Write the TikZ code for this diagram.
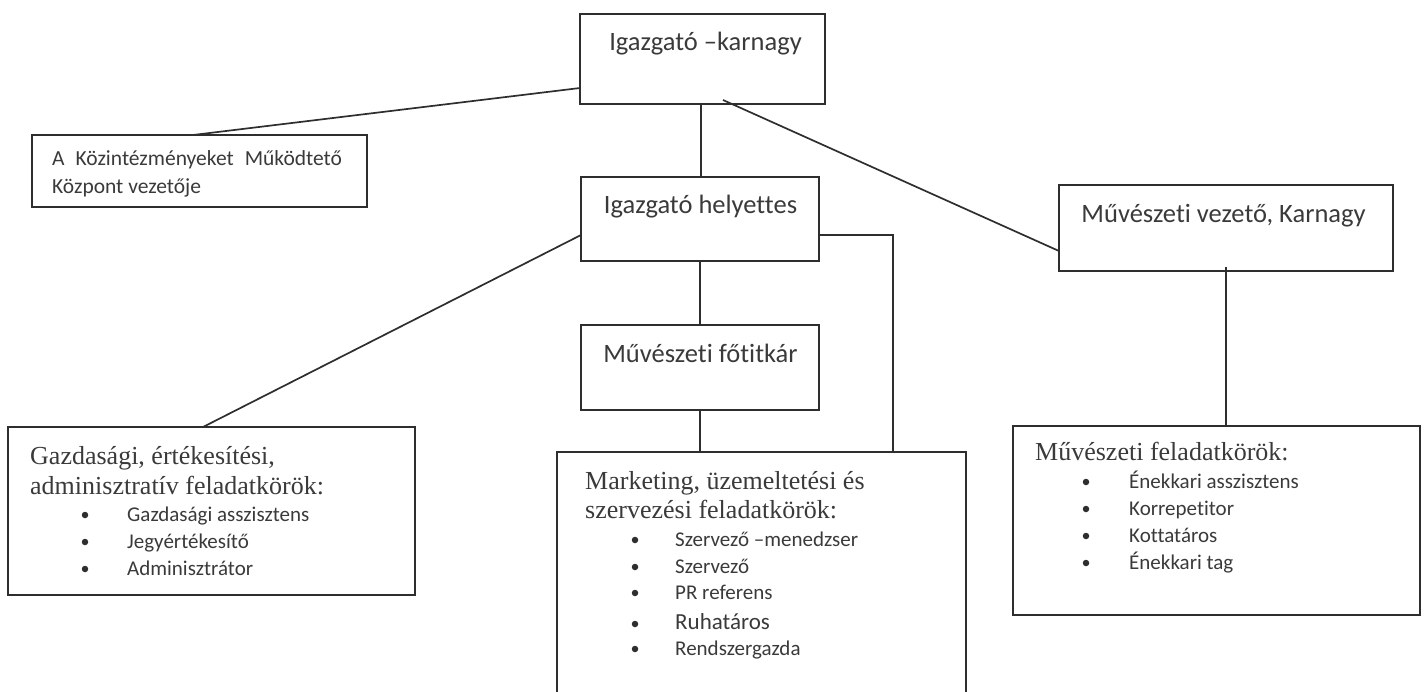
\documentclass[tikz,border=0pt]{standalone}
\usepackage{fontspec}
\setmainfont{Carlito}[Ligatures=NoCommon]
\newfontfamily\serifhead{Liberation Serif}
\usetikzlibrary{calc}
\definecolor{ink}{HTML}{2E2E2E}
\definecolor{txt}{HTML}{3A3A3A}
\tikzset{
  box/.style={draw=ink, line width=1.8pt, rectangle, inner sep=0pt, outer sep=0pt},
  conn/.style={draw=ink, line width=1.7pt},
  bigtxt/.style={text=txt, inner sep=0pt, anchor=base, font=\fontsize{26.5}{30}\selectfont},
  kmktxt/.style={text=txt, inner sep=0pt, anchor=base west, font=\fontsize{21.5}{24}\selectfont},
  headtxt/.style={text=txt, inner sep=0pt, anchor=base west, font=\serifhead\fontsize{26}{29}\selectfont},
  itemtxt/.style={text=txt, inner sep=0pt, anchor=base west, font=\fontsize{21}{24}\selectfont},
  bul/.style={circle, fill=ink, inner sep=0pt, minimum size=6.5pt},
}
\begin{document}
\begin{tikzpicture}[x=1pt,y=-1pt]
\useasboundingbox (0,0) rectangle (1424,691);
\clip (0,0) rectangle (1424,691);
% boxes
\node[box, minimum width=245pt, minimum height=90pt] (b1) at (702.5,59) {};
\node[box, minimum width=335pt, minimum height=72pt] (kmk) at (199.5,171) {};
\node[box, minimum width=238pt, minimum height=84pt] (hely) at (700,219) {};
\node[box, minimum width=238pt, minimum height=85pt] (fot) at (700,367.5) {};
\node[box, minimum width=334pt, minimum height=86pt] (mv) at (1226,228) {};
\node[box, minimum width=407pt, minimum height=168pt] (gazd) at (211.5,511) {};
\node[box, minimum width=409pt, minimum height=280pt] (mark) at (761.5,592) {};
\node[box, minimum width=407pt, minimum height=189pt] (mf) at (1216.5,520.5) {};
% box texts
\node[bigtxt] (t1) at (705.5,50) {Igazgató –karnagy};
\node[kmktxt] (tk1) at (52,165) {A\hspace{11pt}Közintézményeket\hspace{11pt}Működtető};
\node[kmktxt] (tk2) at (52,193) {Központ vezetője};
\node[bigtxt] (th) at (700.5,213) {Igazgató helyettes};
\node[bigtxt] (tf) at (700.5,362) {Művészeti főtitkár};
\node[bigtxt] (tm) at (1223.5,222) {Művészeti vezető, Karnagy};
% gazdasagi
\node[headtxt] (g1) at (30,464) {Gazdasági, értékesítési,};
\node[headtxt] (g2) at (30,494) {adminisztratív feladatkörök:};
\foreach \n/\y/\t in {a/521/{Gazdasági asszisztens}, b/548/{Jegyértékesítő}, c/575/{Adminisztrátor}} {
  \node[bul] (gb\n) at (85,\y-6) {};
  \node[itemtxt] (gi\n) at (127,\y) {\t};
}
% marketing
\node[headtxt] (m1) at (585,489) {Marketing, üzemeltetési és};
\node[headtxt] (m2) at (585,518) {szervezési feladatkörök:};
\foreach \n/\y/\t in {a/546/{Szervező –menedzser}, b/573/{Szervező}, c/599/{PR referens}, e/655/{Rendszergazda}} {
  \node[bul] (mb\n) at (635,\y-6) {};
  \node[itemtxt] (mi\n) at (675,\y) {\t};
}
\node[bul] (mbd) at (635,624) {};
\node[itemtxt, font=\fontsize{23}{26}\selectfont] (mid) at (675,629) {Ruhatáros};
% muveszeti feladatkorok
\node[headtxt] (f1) at (1035,460) {Művészeti feladatkörök:};
\foreach \n/\y/\t in {a/488/{Énekkari asszisztens}, b/515/{Korrepetitor}, c/542/{Kottatáros}, d/569/{Énekkari tag}} {
  \node[bul] (fb\n) at (1086,\y-6) {};
  \node[itemtxt] (fi\n) at (1129,\y) {\t};
}
% connectors
\draw[conn] ([yshift=-29pt]b1.west) -- ([xshift=-6.5pt]kmk.north);
\draw[conn] ([xshift=-1.5pt]b1.south) -- ([xshift=-1.5pt]b1.south |- hely.north);
\draw[conn] ([xshift=20.5pt,yshift=4pt]b1.south) -- ([yshift=-23pt]mv.west);
\draw[conn] ([yshift=-16pt]hely.west) -- ([xshift=-8.5pt]gazd.north);
\draw[conn] ([yshift=-16pt]hely.east) -| ([xshift=131.5pt]mark.north);
\draw[conn] (hely.south) -- (hely.south |- fot.north);
\draw[conn] (fot.south) -- (fot.south |- mark.north);
\draw[conn] ([yshift=4pt]mv.south) -- (mv.south |- mf.north);
\end{tikzpicture}
\end{document}
